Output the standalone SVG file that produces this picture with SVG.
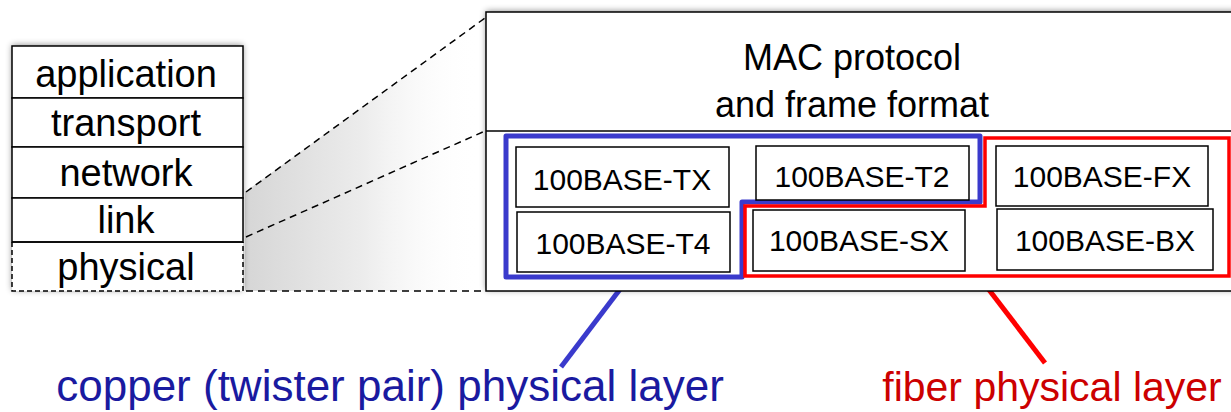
<svg xmlns="http://www.w3.org/2000/svg" width="1231" height="412" viewBox="0 0 1231 412">
<defs>
<style>
text{font-family:"Liberation Sans",Arial,sans-serif;text-anchor:middle;fill:#000}
.layer{fill:#fff;stroke:#000;stroke-width:1.5}
.lt{font-size:38px}
.std{fill:#fff;stroke:#000;stroke-width:1.5}
.st{font-size:30px}
.dash{fill:none;stroke:#000;stroke-width:1.5;stroke-dasharray:7 5}
.mac{font-size:36px}
</style>
<linearGradient id="shade" x1="245" y1="0" x2="480" y2="0" gradientUnits="userSpaceOnUse">
<stop offset="0" stop-color="#d6d6d6"/>
<stop offset="0.5" stop-color="#ececec"/>
<stop offset="1" stop-color="#ffffff" stop-opacity="0"/>
</linearGradient>
<filter id="glow" x="-10%" y="-20%" width="120%" height="140%">
<feDropShadow dx="0" dy="-1" stdDeviation="3" flood-color="#000" flood-opacity="0.45"/>
</filter>
</defs>
<rect width="1231" height="412" fill="#fff"/>
<polygon points="245,192 485,18 485,291 245,291" fill="url(#shade)"/>
<g id="stack">
<rect x="12" y="46" width="231" height="245" fill="#fff" filter="url(#glow)"/>
<g id="application"><rect class="layer" x="12" y="46" width="231" height="52"/><text class="lt" x="126" y="87">application</text></g>
<g id="transport"><rect class="layer" x="12" y="98" width="231" height="49"/><text class="lt" x="126" y="136">transport</text></g>
<g id="network"><rect class="layer" x="12" y="147" width="231" height="51"/><text class="lt" x="126" y="186">network</text></g>
<g id="link"><rect class="layer" x="12" y="198" width="231" height="44"/><text class="lt" x="126" y="233">link</text></g>
<g id="physical"><path d="M12,242 H243" stroke="#000" stroke-width="1.5"/><path d="M12,242 V291 H243 V242" fill="none" stroke="#000" stroke-width="1.5" stroke-dasharray="5 3"/><text class="lt" x="126" y="280">physical</text></g>
</g>
<g id="connectors">
<path class="dash" d="M246,192 L485,18"/>
<path class="dash" d="M246,237 L485,131"/>
<path class="dash" d="M246,291 L485,291"/>
<path d="M624,284 L561,367" stroke="#3a3acc" stroke-width="5" fill="none"/>
<path d="M983,282 L1045,363" stroke="#ff0000" stroke-width="5" fill="none"/>
</g>
<g id="ethernet">
<rect x="486" y="12" width="760" height="279" fill="#fff" filter="url(#glow)"/>
<rect x="486" y="12" width="760" height="279" fill="#fff" stroke="#000" stroke-width="1.5"/>
<path d="M486,131 H1231" stroke="#000" stroke-width="1.5"/>
</g>
<g id="mac">
<text class="mac" x="852" y="70">MAC protocol</text>
<text class="mac" x="852" y="117">and frame format</text>
</g>
<g id="copper-group"><path d="M506,136 H980 V202 H742 V277 H506 Z" fill="none" stroke="#3a3acc" stroke-width="5" stroke-linejoin="round"/></g>
<g id="fiber-group"><path d="M985,138 H1229 V276 H745 V206 H985 Z" fill="none" stroke="#ff0000" stroke-width="3.5"/></g>
<g id="tx"><rect class="std" x="516" y="147" width="213" height="60"/><text class="st" x="622" y="190">100BASE-TX</text></g>
<g id="t4"><rect class="std" x="517" y="212" width="213" height="60"/><text class="st" x="623" y="254">100BASE-T4</text></g>
<g id="t2"><rect class="std" x="756" y="146" width="213" height="54"/><text class="st" x="862" y="187">100BASE-T2</text></g>
<g id="sx"><rect class="std" x="753" y="210" width="212" height="61"/><text class="st" x="859" y="251">100BASE-SX</text></g>
<g id="fx"><rect class="std" x="996" y="146" width="212" height="60"/><text class="st" x="1102" y="187">100BASE-FX</text></g>
<g id="bx"><rect class="std" x="997" y="209" width="216" height="61"/><text class="st" x="1105" y="251">100BASE-BX</text></g>
<g id="labels">
<text x="390" y="401" style="font-size:44px;fill:#1a1aa0">copper (twister pair) physical layer</text>
<text x="1052" y="401" style="font-size:41px;fill:#cc0000">fiber physical layer</text>
</g>
</svg>
